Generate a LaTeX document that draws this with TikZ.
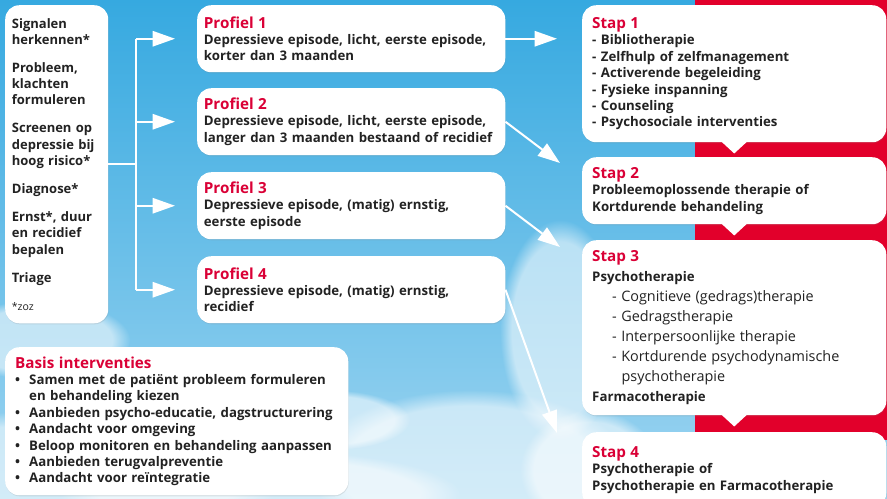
\documentclass[tikz,border=0pt]{standalone}
\usepackage{fontspec}
\setmainfont{Open Sans}
\usepackage{tikz}
\usetikzlibrary{arrows.meta, positioning, calc, shadows, fadings}

\definecolor{skytop}{HTML}{36A9E0}
\definecolor{skybot}{HTML}{9ED5F1}
\definecolor{panelred}{HTML}{E2002B}
\definecolor{titlered}{HTML}{DA0036}
\definecolor{ink}{HTML}{222222}

\hyphenpenalty=10000

\newcommand{\ttl}[1]{\textcolor{titlered}{\fontsize{13}{14}\selectfont #1}}
\newcommand{\bitem}[1]{\par\noindent\hangindent=0.42cm\hangafter=1\makebox[0.42cm][l]{\textbullet}#1}

\tikzset{
  card/.style={fill=white, rounded corners=0.42cm, anchor=north west, align=left,
    inner xsep=0.3cm, inner ysep=0.1cm, text=ink,
    font=\fontsize{11.3}{14}\selectfont\bfseries,
    drop shadow={opacity=0.18, shadow xshift=0.4pt, shadow yshift=-0.9pt}},
  profiel/.style={card, inner xsep=0.2cm, text width=8.84cm, minimum width=9.24cm, minimum height=2.01cm},
  stap/.style={card, text width=8.52cm, minimum width=9.12cm},
  wline/.style={white, line width=1.7pt},
  warrow/.style={wline, -{Triangle[width=13pt, length=19pt]}},
  pointer/.style={fill=white}
}

\begin{document}
\begin{tikzpicture}[x=0.03cm, y=-0.03cm]
\useasboundingbox (0,0) rectangle (887,499);
\clip (0,0) rectangle (887,499);

% sky and clouds
\shade[top color=skytop, bottom color=skybot] (0,0) rectangle (887,499);
\foreach \cx/\cy/\rx/\ry in {60/480/220/70, 260/495/200/45, 470/470/160/80,
    40/340/90/40, 560/330/60/110, 590/470/70/60, 330/420/80/30}
  \fill[white, opacity=0.55, path fading=circle with fuzzy edge 20 percent]
    (\cx,\cy) ellipse [x radius=\rx, y radius=\ry];
\fill[panelred] (695,0) rectangle (887,440);

% left column
\node[card, inner xsep=0.2cm, text width=2.69cm, minimum width=3.09cm, minimum height=9.54cm,
      font=\fontsize{11.1}{13.9}\selectfont\bfseries] (stappen) at (5,5)
  {Signalen\\herkennen*\\[10pt]
   Probleem,\\klachten\\formuleren\\[10pt]
   Screenen op\\depressie bij\\hoog risico*\\[10pt]
   Diagnose*\\[10pt]
   Ernst*, duur\\en recidief\\bepalen\\[10pt]
   Triage\\[10pt]
   {\mdseries\fontsize{9}{10}\selectfont *zoz}};

% profielen
\node[profiel] (p1) at (197,5)
  {\ttl{Profiel 1}\\Depressieve episode, licht, eerste episode,\\korter dan 3 maanden};
\node[profiel] (p2) at (197,88)
  {\ttl{Profiel 2}\\Depressieve episode, licht, eerste episode,\\langer dan 3 maanden bestaand of recidief};
\node[profiel] (p3) at (197,172)
  {\ttl{Profiel 3}\\Depressieve episode, (matig) ernstig,\\eerste episode};
\node[profiel] (p4) at (197,256)
  {\ttl{Profiel 4}\\Depressieve episode, (matig) ernstig,\\recidief};

% stappen
\node[stap, minimum height=4.11cm] (s1) at (582,5)
  {\ttl{Stap 1}\\- Bibliotherapie\\- Zelfhulp of zelfmanagement\\- Activerende begeleiding\\
   - Fysieke inspanning\\- Counseling\\- Psychosociale interventies};
\node[stap, minimum height=2.01cm] (s2) at (582,157)
  {\ttl{Stap 2}\\Probleemoplossende therapie of\\Kortdurende behandeling};
\node[stap, minimum height=5.25cm] (s3) at (582,240)
  {\ttl{Stap 3}\\[3pt]Psychotherapie\\[3pt]
   \mdseries\fontsize{12.3}{14}\selectfont
   \hspace*{0.6cm}- Cognitieve (gedrags)therapie\\[3pt]
   \hspace*{0.6cm}- Gedragstherapie\\[3pt]
   \hspace*{0.6cm}- Interpersoonlijke therapie\\[3pt]
   \hspace*{0.6cm}- Kortdurende psychodynamische\\[3pt]
   \hspace*{0.88cm}psychotherapie\\[3pt]
   \bfseries\fontsize{11.3}{14}\selectfont Farmacotherapie};
\node[stap, minimum height=2.25cm] (s4) at (582,432)
  {\ttl{Stap 4}\\Psychotherapie of\\Psychotherapie en Farmacotherapie};

\foreach \s in {s1,s2,s3}
  \fill[pointer] ($(\s.south)+(-13,-1)$) -- ($(\s.south)+(13,-1)$) -- ($(\s.south)+(0,11)$) -- cycle;

% basis
\node[card, text width=9.69cm, minimum width=10.29cm, minimum height=4.44cm] (basis) at (5,347)
  {\ttl{Basis interventies}
   \bitem{Samen met de patiënt probleem formuleren\newline en behandeling kiezen}
   \bitem{Aanbieden psycho-educatie, dagstructurering}
   \bitem{Aandacht voor omgeving}
   \bitem{Beloop monitoren en behandeling aanpassen}
   \bitem{Aanbieden terugvalpreventie}
   \bitem{Aandacht voor reïntegratie}};

% connectors
\coordinate (hub) at (136,0);
\draw[wline] (stappen.east) -- (stappen.east -| hub);
\draw[wline] (hub |- p1.west) -- (hub |- p4.west);
\foreach \p in {p1,p2,p3,p4}
  \draw[warrow, shorten >=0.66cm] (hub |- \p.west) -- (\p.west);

\coordinate (e2) at (560,163);
\coordinate (e3) at (560,247);
\coordinate (e4) at (557,433);
\draw[warrow, shorten >=0.75cm] (p1.east) -- (p1.east -| s1.west);
\draw[warrow] (p2.east) -- (e2);
\draw[warrow] (p3.east) -- (e3);
\draw[warrow] (p4.east) -- (e4);
\end{tikzpicture}
\end{document}
